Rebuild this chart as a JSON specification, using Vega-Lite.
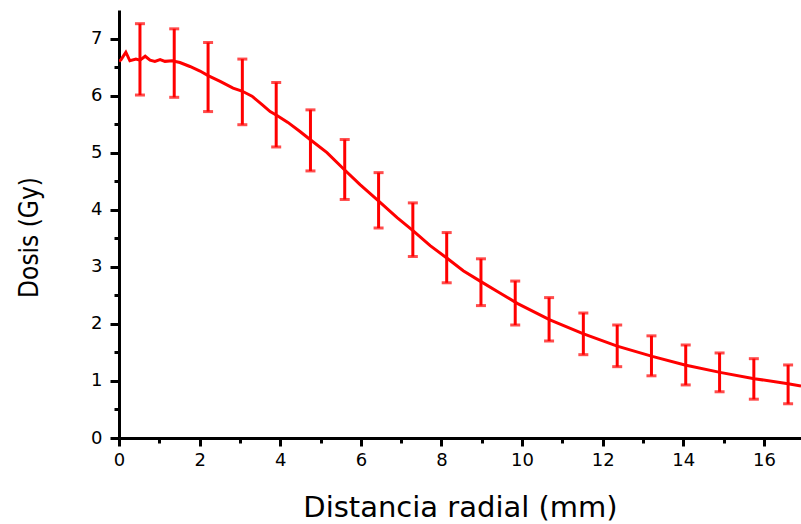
{
  "$schema": "https://vega.github.io/schema/vega-lite/v6.json",
  "width": 682,
  "height": 428,
  "autosize": "none",
  "padding": {"left": 119, "top": 10, "right": 0, "bottom": 86},
  "background": "white",
  "config": {
    "view": {"stroke": null},
    "axis": {
      "grid": false,
      "domainColor": "black",
      "domainWidth": 3,
      "tickColor": "black",
      "tickWidth": 3,
      "labelFont": "DejaVu Sans",
      "labelFontSize": 18,
      "labelColor": "black",
      "titleColor": "black",
      "titleFontWeight": "normal"
    }
  },
  "datasets": {
    "curve": [
      {"r": 0.00, "dose": 6.60}, {"r": 0.05, "dose": 6.63}, {"r": 0.17, "dose": 6.76},
      {"r": 0.27, "dose": 6.61}, {"r": 0.42, "dose": 6.64}, {"r": 0.52, "dose": 6.62},
      {"r": 0.65, "dose": 6.69}, {"r": 0.77, "dose": 6.62}, {"r": 0.89, "dose": 6.60},
      {"r": 1.02, "dose": 6.63}, {"r": 1.14, "dose": 6.60}, {"r": 1.32, "dose": 6.61},
      {"r": 1.51, "dose": 6.58}, {"r": 1.76, "dose": 6.51}, {"r": 2.01, "dose": 6.43},
      {"r": 2.21, "dose": 6.35}, {"r": 2.51, "dose": 6.25}, {"r": 2.83, "dose": 6.13},
      {"r": 3.05, "dose": 6.08}, {"r": 3.30, "dose": 5.99}, {"r": 3.55, "dose": 5.84},
      {"r": 3.75, "dose": 5.72}, {"r": 3.92, "dose": 5.65}, {"r": 4.19, "dose": 5.53},
      {"r": 4.49, "dose": 5.37}, {"r": 4.74, "dose": 5.23}, {"r": 5.16, "dose": 5.00},
      {"r": 5.58, "dose": 4.71}, {"r": 5.98, "dose": 4.44}, {"r": 6.43, "dose": 4.16},
      {"r": 6.90, "dose": 3.86}, {"r": 7.30, "dose": 3.63}, {"r": 7.72, "dose": 3.37},
      {"r": 8.14, "dose": 3.15}, {"r": 8.54, "dose": 2.93}, {"r": 8.98, "dose": 2.74},
      {"r": 9.45, "dose": 2.54}, {"r": 9.88, "dose": 2.36}, {"r": 10.69, "dose": 2.07},
      {"r": 11.51, "dose": 1.83}, {"r": 12.36, "dose": 1.61}, {"r": 13.23, "dose": 1.43},
      {"r": 14.04, "dose": 1.28}, {"r": 14.91, "dose": 1.15}, {"r": 15.76, "dose": 1.04},
      {"r": 16.60, "dose": 0.95}, {"r": 16.92, "dose": 0.91}
    ],
    "bars": [
      {"r": 0.52, "lo": 6.01, "hi": 7.26}, {"r": 1.37, "lo": 5.97, "hi": 7.17},
      {"r": 2.21, "lo": 5.72, "hi": 6.93}, {"r": 3.06, "lo": 5.49, "hi": 6.64},
      {"r": 3.90, "lo": 5.10, "hi": 6.23}, {"r": 4.75, "lo": 4.68, "hi": 5.75},
      {"r": 5.60, "lo": 4.18, "hi": 5.23}, {"r": 6.44, "lo": 3.68, "hi": 4.65},
      {"r": 7.29, "lo": 3.18, "hi": 4.12}, {"r": 8.13, "lo": 2.72, "hi": 3.60},
      {"r": 8.98, "lo": 2.32, "hi": 3.14}, {"r": 9.83, "lo": 1.98, "hi": 2.75},
      {"r": 10.67, "lo": 1.70, "hi": 2.46}, {"r": 11.52, "lo": 1.46, "hi": 2.19},
      {"r": 12.36, "lo": 1.25, "hi": 1.98}, {"r": 13.21, "lo": 1.09, "hi": 1.79},
      {"r": 14.06, "lo": 0.93, "hi": 1.63}, {"r": 14.90, "lo": 0.81, "hi": 1.49},
      {"r": 15.75, "lo": 0.68, "hi": 1.39}, {"r": 16.60, "lo": 0.60, "hi": 1.28}
    ]
  },
  "layer": [
    {
      "data": {"name": "curve"},
      "mark": {"type": "line", "color": "#ff0000", "strokeWidth": 3, "clip": true},
      "encoding": {
        "x": {
          "field": "r", "type": "quantitative",
          "scale": {"domain": [0, 16.92], "nice": false, "zero": false},
          "axis": {
            "orient": "bottom",
            "values": [0, 2, 4, 6, 8, 10, 12, 14, 16],
            "format": "d",
            "labelFlush": false,
            "tickSize": 8,
            "labelPadding": 5,
            "title": "Distancia radial (mm)",
            "titleFont": "DejaVu Sans",
            "titleFontSize": 29,
            "titlePadding": 24
          }
        },
        "y": {
          "field": "dose", "type": "quantitative",
          "scale": {"domain": [0, 7.5], "nice": false},
          "axis": {
            "orient": "left",
            "values": [0, 1, 2, 3, 4, 5, 6, 7],
            "format": "d",
            "tickSize": 9,
            "labelPadding": 8,
            "title": "Dosis (Gy)",
            "titleFont": "DejaVu Sans Condensed, Liberation Sans Narrow, Liberation Sans",
            "titleFontSize": 26,
            "titlePadding": 48,
            "titleY": 227
          }
        }
      }
    },
    {
      "data": {"name": "bars"},
      "mark": {
        "type": "errorbar",
        "color": "#ff0000",
        "thickness": 3,
        "ticks": {"size": 10, "thickness": 3, "color": "#ff0000"}
      },
      "encoding": {
        "x": {"field": "r", "type": "quantitative", "axis": null},
        "y": {"field": "lo", "type": "quantitative", "axis": null},
        "y2": {"field": "hi"}
      }
    },
    {
      "data": {"name": "bars"},
      "mark": {"type": "point", "opacity": 0},
      "encoding": {
        "x": {
          "field": "r", "type": "quantitative",
          "axis": {
            "orient": "bottom",
            "values": [1, 3, 5, 7, 9, 11, 13, 15],
            "labels": false, "domain": false, "tickSize": 5, "title": null
          }
        },
        "y": {
          "field": "lo", "type": "quantitative",
          "axis": {
            "orient": "left",
            "values": [0.5, 1.5, 2.5, 3.5, 4.5, 5.5, 6.5],
            "labels": false, "domain": false, "tickSize": 5, "title": null
          }
        }
      }
    }
  ],
  "resolve": {"axis": {"x": "independent", "y": "independent"}}
}
